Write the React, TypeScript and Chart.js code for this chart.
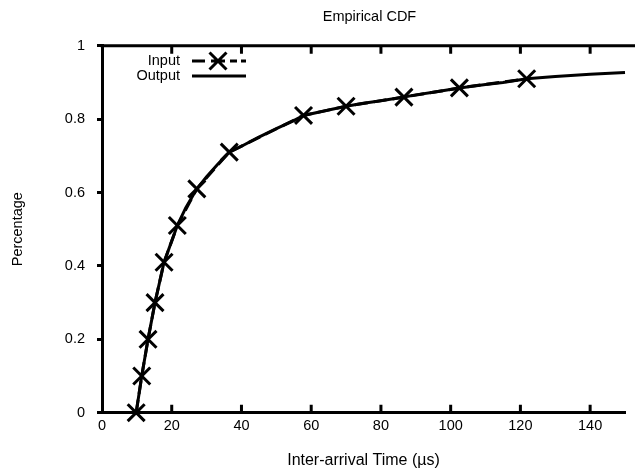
import React, { useEffect, useRef } from 'react';
import { Chart, registerables } from 'chart.js';

Chart.register(...registerables);

const chartTitle = 'Empirical CDF';
const xTitle = 'Inter-arrival Time (\u00b5s)';
const yTitle = 'Percentage';
const seriesNames = ['Input', 'Output'];

const inputX = [9.8, 11.4, 13.2, 15.2, 17.8, 21.6, 27.2, 36.5, 57.8, 70, 86.6, 102.5, 121.8];
const inputY = [0, 0.1, 0.2, 0.3, 0.41, 0.51, 0.61, 0.71, 0.81, 0.835, 0.86, 0.885, 0.91];

const outputX = [9.8, 11.4, 13.2, 15.2, 17.8, 21.6, 24, 27.2, 30, 33, 36.5, 40, 45, 50, 55, 57.8, 65, 70, 75, 80, 86.6, 90, 95, 102.5, 110, 115, 121.8, 130, 140, 150];
const outputY = [0, 0.1, 0.2, 0.3, 0.41, 0.51, 0.558, 0.61, 0.643, 0.675, 0.71, 0.726, 0.751, 0.774, 0.796, 0.81, 0.825, 0.835, 0.843, 0.85, 0.86, 0.866, 0.873, 0.885, 0.894, 0.9, 0.91, 0.916, 0.922, 0.927];

const xTickValues = [0, 20, 40, 60, 80, 100, 120, 140];
const yTickValues = [0, 0.2, 0.4, 0.6, 0.8, 1];

const FONT = 'Liberation Sans, Arial, sans-serif';
const FS = 14.5;
const FS_XTITLE = 16;

const framePlugin = {
  id: 'frame',
  afterDraw(chart: any) {
    const { ctx, chartArea: a } = chart;
    const x = chart.scales.x;
    ctx.save();
    ctx.strokeStyle = '#000';
    ctx.lineWidth = 3;
    ctx.lineCap = 'butt';
    ctx.setLineDash([]);
    ctx.beginPath();
    ctx.moveTo(a.left - 1.5, a.top);
    ctx.lineTo(a.right + 10, a.top);
    for (const v of xTickValues) {
      if (v === 0) continue;
      const px = x.getPixelForValue(v);
      ctx.moveTo(px, a.bottom);
      ctx.lineTo(px, a.bottom - 8);
      ctx.moveTo(px, a.top);
      ctx.lineTo(px, a.top + 8);
    }
    ctx.stroke();

    ctx.fillStyle = '#000';
    ctx.font = `${FS}px ${FONT}`;
    ctx.textAlign = 'center';
    ctx.textBaseline = 'middle';
    ctx.fillText(chartTitle, (a.left + 637) / 2, 17);

    ctx.textAlign = 'right';
    const ly1 = 61;
    const ly2 = 76;
    ctx.fillText(seriesNames[0], 180, ly1);
    ctx.fillText(seriesNames[1], 180, ly2);
    ctx.beginPath();
    const segs = [[192, 205], [211, 225], [230, 237], [241, 246]];
    for (const [s, e] of segs) {
      ctx.moveTo(s, ly1);
      ctx.lineTo(e, ly1);
    }
    const cx = 218, r = 12 * Math.SQRT1_2;
    ctx.moveTo(cx - r, ly1 - r);
    ctx.lineTo(cx + r, ly1 + r);
    ctx.moveTo(cx - r, ly1 + r);
    ctx.lineTo(cx + r, ly1 - r);
    ctx.moveTo(192, ly2);
    ctx.lineTo(246, ly2);
    ctx.stroke();
    ctx.restore();
  },
};

export default function App() {
  const ref = useRef<HTMLCanvasElement | null>(null);
  useEffect(() => {
    if (!ref.current) return;
    const chart = new Chart(ref.current, {
      type: 'scatter',
      data: {
        datasets: [
          {
            label: seriesNames[0],
            data: inputX.map((v, i) => ({ x: v, y: inputY[i] })),
            showLine: true,
            borderColor: '#000',
            backgroundColor: '#000',
            borderWidth: 3,
            borderDash: [13, 6],
            pointStyle: 'crossRot',
            pointRadius: 12,
            pointBorderWidth: 3,
            pointHoverRadius: 12,
            clip: false,
            order: 2,
          } as any,
          {
            label: seriesNames[1],
            data: outputX.map((v, i) => ({ x: v, y: outputY[i] })),
            showLine: true,
            borderColor: '#000',
            backgroundColor: '#000',
            borderWidth: 3,
            pointRadius: 0,
            pointHoverRadius: 0,
            clip: false,
            order: 1,
          } as any,
        ],
      },
      options: {
        responsive: false,
        animation: false,
        events: [],
        layout: { padding: { left: 0, right: 0, top: 45.7, bottom: 0 } },
        plugins: {
          legend: { display: false },
          tooltip: { enabled: false },
          title: { display: false },
        },
        scales: {
          x: {
            type: 'linear',
            min: 0,
            max: 150,
            afterFit: (s: any) => { s.height = 59.3; },
            afterBuildTicks: (s: any) => { s.ticks = xTickValues.map((v) => ({ value: v })); },
            ticks: {
              color: '#000',
              font: { family: FONT, size: FS },
              padding: 5,
              includeBounds: false,
              maxRotation: 0,
              autoSkip: false,
            },
            grid: { display: false, drawTicks: false, drawOnChartArea: false },
            border: { display: true, color: '#000', width: 3 },
            title: {
              display: true,
              text: xTitle,
              color: '#000',
              font: { family: FONT, size: FS_XTITLE },
              padding: { top: 0, bottom: 2 },
            },
          },
          y: {
            type: 'linear',
            min: 0,
            max: 1,
            afterFit: (s: any) => { s.width = 102; },
            afterBuildTicks: (s: any) => { s.ticks = yTickValues.map((v) => ({ value: v })); },
            ticks: {
              color: '#000',
              font: { family: FONT, size: FS },
              padding: 12,
              autoSkip: false,
              callback: (v: any) => String(v),
            },
            grid: {
              display: true,
              drawOnChartArea: false,
              drawTicks: true,
              tickLength: 5,
              color: '#000',
              lineWidth: 3,
            },
            border: { display: true, color: '#000', width: 3 },
            title: {
              display: true,
              text: yTitle,
              color: '#000',
              font: { family: FONT, size: FS },
              padding: { top: 9, bottom: 0 },
            },
          },
        },
      },
      plugins: [framePlugin],
    });
    return () => chart.destroy();
  }, []);

  return (
    <div style={{ position: 'fixed', left: 0, top: 0, width: 637, height: 472, overflow: 'hidden', background: '#fff' }}>
      <canvas ref={ref} width={640} height={472} style={{ display: 'block' }} />
    </div>
  );
}
